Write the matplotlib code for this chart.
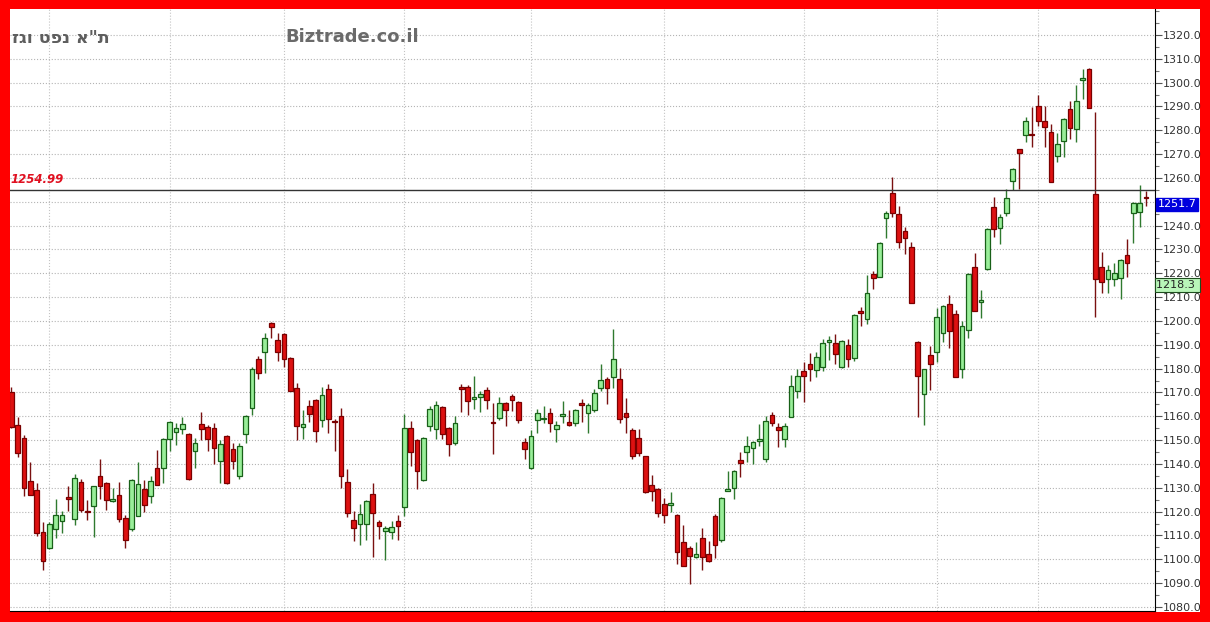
import numpy as np
import matplotlib
matplotlib.use("Agg")
import matplotlib.pyplot as plt
from matplotlib.patches import Rectangle
from matplotlib.ticker import MultipleLocator, FuncFormatter
import matplotlib.transforms as mtransforms

# daily candles (open, high, low, close)
opens = [1170, 1156.3, 1151.1, 1132.8, 1129, 1111.3, 1104.7, 1112.9, 1115.9, 1126.1,
         1116.9, 1132.5, 1120.1, 1122.4, 1134.8, 1132.1, 1124.3, 1126.9, 1117.3, 1112.7,
         1118.3, 1129.4, 1126.4, 1138.3, 1138.5, 1150.4, 1153.2, 1154.6, 1152.5, 1145.5,
         1156.7, 1155.5, 1155.1, 1141.3, 1151.6, 1146.2, 1135, 1152.7, 1163.5, 1183.9,
         1187, 1199.3, 1192, 1194.4, 1184.6, 1172, 1155.5, 1164.3, 1166.9, 1158.5,
         1171.3, 1158, 1160.1, 1132.4, 1116.4, 1115, 1114.7, 1127.6, 1115.7, 1112,
         1111.3, 1116.1, 1122.1, 1155, 1150, 1133.4, 1155.9, 1154.8, 1163.9, 1155,
         1148.8, 1172.4, 1172.4, 1167.4, 1168.3, 1170.9, 1157.8, 1159.4, 1165.5, 1168.5,
         1166, 1149.4, 1138.5, 1158.5, 1158.7, 1161.3, 1154.5, 1160.1, 1157.8, 1157.3,
         1165.6, 1161.5, 1162.5, 1172, 1175.8, 1176.6, 1175.5, 1161.5, 1154.1, 1150.8,
         1143.4, 1131, 1129.4, 1123.4, 1122.9, 1118.5, 1107.4, 1104.8, 1101, 1108.8,
         1102.4, 1118.2, 1108.1, 1128.8, 1130.1, 1141.5, 1145, 1146.9, 1149.5, 1142.2,
         1160.6, 1155.4, 1150.5, 1159.9, 1170.6, 1179.2, 1182, 1179.4, 1180.6, 1191,
         1190.6, 1180.6, 1189.9, 1184.3, 1204.2, 1200.8, 1219.6, 1218.6, 1243.1, 1253.8,
         1244.9, 1237.8, 1230.9, 1191, 1169.4, 1185.7, 1187.1, 1195.1, 1207.1, 1202.9,
         1180, 1196, 1222.8, 1208.1, 1221.7, 1248, 1239.2, 1245.2, 1258.7, 1272,
         1277.9, 1278.6, 1290.2, 1283.9, 1279.4, 1269.2, 1275.5, 1289.1, 1280.7, 1301.1,
         1305.9, 1253.4, 1222.8, 1217.5, 1217.5, 1217.9, 1227.6, 1245.5, 1245.7, 1252]
highs = [1172.5, 1159.8, 1152, 1140.9, 1132.2, 1115.5, 1115.6, 1125.2, 1120.3, 1130.8,
         1135.6, 1133.6, 1124.8, 1130.8, 1142, 1132.5, 1130.1, 1132.5, 1118.5, 1133.8,
         1140.9, 1133.4, 1135, 1145.7, 1150.8, 1158, 1157.2, 1159.8, 1153, 1150.7,
         1161.9, 1156.5, 1157.3, 1150, 1152, 1149, 1149, 1160.5, 1180.5, 1185.3,
         1195.1, 1199.6, 1195, 1194.8, 1185, 1173.8, 1162.5, 1166.9, 1167.2, 1172.4,
         1173.4, 1158.7, 1163.6, 1138, 1120.1, 1123.4, 1125, 1131.9, 1116.5, 1114,
         1116, 1118.6, 1161, 1158, 1150.5, 1151.5, 1164.5, 1166.4, 1164.5, 1155.5,
         1160.1, 1173.4, 1173, 1176.9, 1170.5, 1172.5, 1165.5, 1168, 1166, 1169.5,
         1166.5, 1150.7, 1154.1, 1163, 1164.3, 1163.6, 1158, 1166.4, 1162.5, 1163,
         1167.1, 1165.5, 1171.3, 1182.1, 1176.5, 1196.8, 1180.4, 1167.8, 1155, 1154.5,
         1143.5, 1135.2, 1130, 1125.9, 1128.4, 1119, 1114.3, 1105.5, 1107.4, 1113.3,
         1107.7, 1119, 1126, 1136.9, 1137.3, 1145.2, 1151.7, 1149.8, 1156.6, 1160.1,
         1162, 1157.3, 1157, 1177.3, 1179.7, 1182.7, 1186.7, 1187.1, 1192.3, 1193.7,
         1194.5, 1192, 1192.3, 1202.8, 1205.7, 1219.3, 1221.1, 1233, 1246, 1260.6,
         1248.3, 1239.3, 1233, 1191.5, 1180, 1189.7, 1205.6, 1206.8, 1210.9, 1204.6,
         1200, 1220, 1228.7, 1213, 1239, 1252.2, 1245, 1255.5, 1264, 1272.3,
         1285.7, 1289.8, 1294.7, 1290.2, 1282.5, 1279, 1285.2, 1292.3, 1298.9, 1305.9,
         1306.2, 1287.7, 1229, 1223.4, 1224.5, 1226, 1234.3, 1250, 1256.9, 1254.5]
lows = [1155, 1143, 1126.6, 1126.8, 1109.9, 1095.5, 1104.4, 1108.9, 1111, 1120.3,
        1114.5, 1119.7, 1116.6, 1109.4, 1125.2, 1120.8, 1124, 1115.5, 1104.7, 1112,
        1118, 1119.9, 1123.6, 1131, 1132.2, 1145.5, 1147.9, 1152.5, 1133.3, 1138.5,
        1150, 1145.5, 1140.1, 1131.9, 1131.5, 1137.8, 1133.6, 1149, 1160.7, 1175.8,
        1178.3, 1193, 1183.2, 1180.8, 1170.5, 1150.1, 1150.6, 1157.6, 1149.2, 1155.7,
        1153.1, 1145.5, 1130.1, 1117.9, 1107.7, 1106.2, 1108, 1101.1, 1108.7, 1099.7,
        1108.5, 1108, 1118.2, 1139, 1129.6, 1133, 1154, 1150.6, 1150.6, 1143.4,
        1148, 1161.8, 1160.4, 1162.9, 1161.8, 1163.2, 1144.3, 1158.5, 1155.9, 1162.2,
        1157.3, 1142.2, 1137.8, 1152.9, 1157.3, 1153.4, 1149.2, 1157, 1156, 1156,
        1157.5, 1153.1, 1162, 1170.6, 1165, 1172, 1157.3, 1153.1, 1142.2, 1143.5,
        1128, 1124.5, 1117.9, 1115.1, 1119.9, 1097.9, 1097, 1089.5, 1100.5, 1095.5,
        1099, 1100.6, 1107.3, 1128.5, 1125.2, 1134.7, 1140.8, 1140.1, 1147.6, 1140.8,
        1156, 1147, 1147, 1159.6, 1167.8, 1165.9, 1174.8, 1176.6, 1178.9, 1183.6,
        1181.8, 1180.3, 1180.6, 1183.4, 1197.9, 1198.7, 1213.3, 1218.3, 1234.7, 1243.8,
        1230.5, 1228.1, 1207.5, 1159.9, 1156.4, 1171, 1182.7, 1191, 1188.5, 1176.4,
        1176, 1193, 1204, 1201.4, 1221.4, 1235.2, 1232.4, 1244.1, 1255, 1255.5,
        1275.1, 1273.1, 1281.8, 1273.1, 1258.3, 1266.7, 1268.8, 1276.5, 1275.1, 1293.3,
        1289.3, 1201.7, 1211.6, 1211.6, 1214.7, 1209.4, 1218.6, 1232.9, 1239.4, 1248.3]
closes = [1155.5, 1144.8, 1129.9, 1127, 1111, 1099.4, 1114.8, 1118.7, 1118.7, 1125.1,
          1133.9, 1120.8, 1119.7, 1130.6, 1130.6, 1124.8, 1125.5, 1117.1, 1108.2, 1133.4,
          1131.4, 1122.7, 1132.8, 1131.3, 1150.4, 1157.8, 1154.9, 1156.7, 1133.6, 1149,
          1154.6, 1150.3, 1146.7, 1148.3, 1131.9, 1141.3, 1147.4, 1160.1, 1180, 1178.3,
          1192.9, 1197.5, 1187, 1184.2, 1170.8, 1155.9, 1156.8, 1160.8, 1153.8, 1169.1,
          1159, 1157.5, 1135, 1119.6, 1113, 1118.9, 1124.5, 1119.3, 1114, 1113,
          1113.7, 1114, 1155, 1145, 1137, 1151, 1162.9, 1164.6, 1152.6, 1148.5,
          1157.3, 1171.6, 1166.4, 1168.3, 1169.5, 1166.7, 1157.1, 1165.5, 1162.7, 1166.9,
          1158.5, 1146.2, 1151.7, 1161.5, 1159.2, 1157.3, 1156.4, 1161, 1156.4, 1162.5,
          1164.9, 1164.9, 1169.9, 1175.2, 1172, 1183.9, 1159, 1159.9, 1143.4, 1144.8,
          1128.4, 1128.7, 1119.6, 1118.5, 1123.8, 1103.2, 1097.2, 1101.4, 1102.1, 1101.1,
          1099.3, 1106.2, 1125.6, 1129.5, 1137, 1140.6, 1147.4, 1149.4, 1150.3, 1158,
          1157.3, 1154.3, 1156, 1172.7, 1176.9, 1177.1, 1179.7, 1184.8, 1190.6, 1191.9,
          1186, 1191.7, 1183.9, 1202.5, 1203.2, 1211.9, 1218.2, 1232.6, 1245.5, 1245.2,
          1233.3, 1234.7, 1207.7, 1177.1, 1179.7, 1181.8, 1201.5, 1206.4, 1195.9, 1176.6,
          1198, 1219.6, 1204.2, 1208.8, 1238.7, 1238.5, 1243.8, 1251.7, 1263.6, 1270.6,
          1283.9, 1277.9, 1283.9, 1281.4, 1258.5, 1274.4, 1284.9, 1281.1, 1292.4, 1302.1,
          1289.5, 1217.5, 1216.4, 1221.3, 1220.3, 1225.5, 1224.5, 1249.7, 1249.7, 1251.7]

month_starts = [6, 25, 43, 62, 82, 103, 125, 146, 162]
ref_level = 1254.99
last_price = 1251.7
other_price = 1218.3
title_he = 'ת"א נפט וגז'
site = "Biztrade.co.il"

o = np.array(opens); h = np.array(highs); l = np.array(lows); c = np.array(closes)
x = np.arange(len(o))
up = c >= o

W, H = 1210, 622
fig = plt.figure(figsize=(W / 100, H / 100), dpi=100)
fig.patch.set_facecolor("#ff0000")
fig.add_artist(Rectangle((9.5 / W, 1 - 611.7 / H), (1200 - 9.5) / W, (611.7 - 9) / H,
                         transform=fig.transFigure, facecolor="white", edgecolor="none", zorder=0))

ax = fig.add_axes([9.5 / W, 1 - 611 / H, (1154.5 - 9.5) / W, (611 - 9) / H])
ax.set_facecolor("white")

# wicks then bodies
ax.vlines(x[up], l[up], h[up], color="#2f7a2f", linewidth=1, zorder=2)
ax.vlines(x[~up], l[~up], h[~up], color="#7a1010", linewidth=1, zorder=2)
body_h = np.maximum(np.abs(c - o), 0.45)
body_b = np.minimum(o, c)
ax.bar(x[up], body_h[up], bottom=body_b[up], width=0.74, color="#99ee99",
       edgecolor="#186018", linewidth=0.9, zorder=3)
ax.bar(x[~up], body_h[~up], bottom=body_b[~up], width=0.74, color="#dd1111",
       edgecolor="#7a0000", linewidth=0.9, zorder=3)

ax.axhline(ref_level, color="#333333", linewidth=1, zorder=4)

ax.set_xlim(-0.28, 180.35)
ax.set_ylim(1078.3, 1330.9)

ax.set_xticks(month_starts)
ax.set_xticklabels([])
ax.tick_params(axis="x", length=0)
ax.yaxis.tick_right()
ax.set_yticks(np.arange(1080, 1321, 10))
ax.yaxis.set_minor_locator(MultipleLocator(5))
# the 1250 label sits under the last-price box
ax.yaxis.set_major_formatter(FuncFormatter(lambda v, p: "" if abs(v - 1250) < 1e-6 else "%.1f" % v))
ax.tick_params(axis="y", which="major", direction="out", length=5, width=0.8,
               color="#555555", labelsize=8, labelcolor="#333333", pad=1)
ax.tick_params(axis="y", which="minor", direction="out", length=3, width=0.8, color="#777777")
ax.grid(True, which="major", axis="y", linestyle=":", color="#b4b4b4", linewidth=0.8)
ax.grid(True, which="major", axis="x", linestyle=":", color="#c4c4c4", linewidth=0.8)
ax.set_axisbelow(True)

for s in ["left", "top"]:
    ax.spines[s].set_visible(False)
ax.spines["right"].set_color("black")
ax.spines["bottom"].set_color("black")

# labels
trans = mtransforms.blended_transform_factory(ax.transAxes, ax.transData)
ax.text(0.001, ref_level + 1.5, "1254.99", transform=trans,
        color="#e01020", fontsize=8.5, fontstyle="italic", fontweight="bold", va="bottom", ha="left")
ax.text(1.0025, last_price - 2.8, "1251.7", transform=trans, color="white", fontsize=8,
        va="center", ha="left", clip_on=False,
        bbox=dict(boxstyle="square,pad=0.15", facecolor="#0000dd", edgecolor="#0000dd"))
ax.text(1.0015, other_price - 3.2, "1218.3 ", transform=trans, color="#222222", fontsize=8,
        va="center", ha="left", clip_on=False,
        bbox=dict(boxstyle="square,pad=0.15", facecolor="#b8f5b8", edgecolor="#1d4d1d", linewidth=0.8))

# matplotlib lays text out left to right, so the Hebrew is given in visual order
fig.text(12 / W, 1 - 38 / H, title_he[::-1], color="#5e5e5e", fontsize=12.5, fontweight="bold",
         va="center", ha="left")
fig.text(285 / W, 1 - 37 / H, site, color="#6a6a6a", fontsize=13, fontweight="bold",
         va="center", ha="left")

fig.savefig("out.png", dpi=100, facecolor=fig.get_facecolor())
